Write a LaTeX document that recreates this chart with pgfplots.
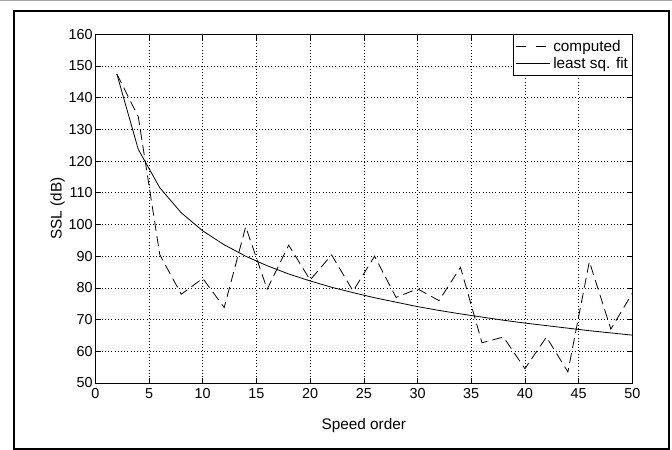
\documentclass[border=0pt]{standalone}
\usepackage{pgfplots}
\pgfplotsset{compat=1.18}
\usepackage{fontspec}
\setmainfont{Liberation Sans}

\begin{document}
\begin{tikzpicture}
\useasboundingbox (0,0) rectangle (504pt,337.5pt);
% outer frame
\draw[gray!70, line width=0.8pt] (0,337.2pt) -- (504pt,337.2pt);
\draw[black, line width=1.5pt] (10.2pt,0.6pt) rectangle (502pt,329.3pt);

\begin{axis}[
  at={(71.5pt,50.25pt)}, anchor=south west,
  scale only axis,
  width=402.75pt, height=261.5pt,
  xmin=0, xmax=50, ymin=50, ymax=160,
  xtick={0,5,...,50}, ytick={50,60,...,160},
  tick align=inside, major tick length=4pt,
  xtick pos=both, ytick pos=both,
  grid=major,
  major grid style={black, dotted, line width=0.5pt},
  axis line style={black, line width=0.6pt},
  tick style={black, line width=0.5pt},
  every tick label/.append style={font=\fontsize{10.8}{12}\selectfont},
  /pgf/number format/assume math mode=true,
  xticklabel style={yshift=-0.5pt},
  yticklabel style={xshift=1.5pt},
  xlabel={Speed order},
  ylabel={SSL (dB)},
  label style={font=\fontsize{11.5}{13}\selectfont},
  xlabel style={yshift=-8pt},
  ylabel style={yshift=-4pt},
  legend cell align=left,
  legend style={at={(1,1)}, anchor=north east, draw=black, line width=0.5pt,
    font=\fontsize{11.5}{12}\selectfont, inner xsep=1pt, inner ysep=2pt,
    row sep=-1pt},
  legend image code/.code={\draw[#1] (0pt,0pt) -- (26pt,0pt);},
]
% computed levels: two-dash legend sample
\addplot[black, line width=0.6pt, dash pattern=on 7.5pt off 4pt,
  legend image code/.code={\draw[black, line width=0.6pt] (0pt,0pt) -- (10pt,0pt) (15pt,0pt) -- (26pt,0pt);}]
  coordinates {
 (2,147.5) (4,134) (6,90.5) (8,78) (10,83) (12,73.8) (14,99.3) (16,79.6)
 (18,93.5) (20,82.5) (22,90.4) (24,79) (26,90) (28,77) (30,79.7) (32,76)
 (34,86.5) (36,62.7) (38,64.5) (40,54.5) (42,64.5) (44,53.5) (46,88.3)
 (48,67) (50,78.3)};
\addlegendentry{computed}
\addplot[black, line width=0.6pt] coordinates {
 (2,147.5) (4,123.7) (6,111.6) (8,103.7) (10,98.0) (12,93.6) (14,90.0)
 (16,87.0) (18,84.4) (20,82.2) (22,80.2) (24,78.5) (26,76.9) (28,75.5)
 (30,74.1) (32,72.9) (34,71.8) (36,70.8) (38,69.8) (40,68.9) (42,68.1)
 (44,67.3) (46,66.5) (48,65.8) (50,65.1)};
\addlegendentry{least sq. fit}
\end{axis}
\end{tikzpicture}
\end{document}
